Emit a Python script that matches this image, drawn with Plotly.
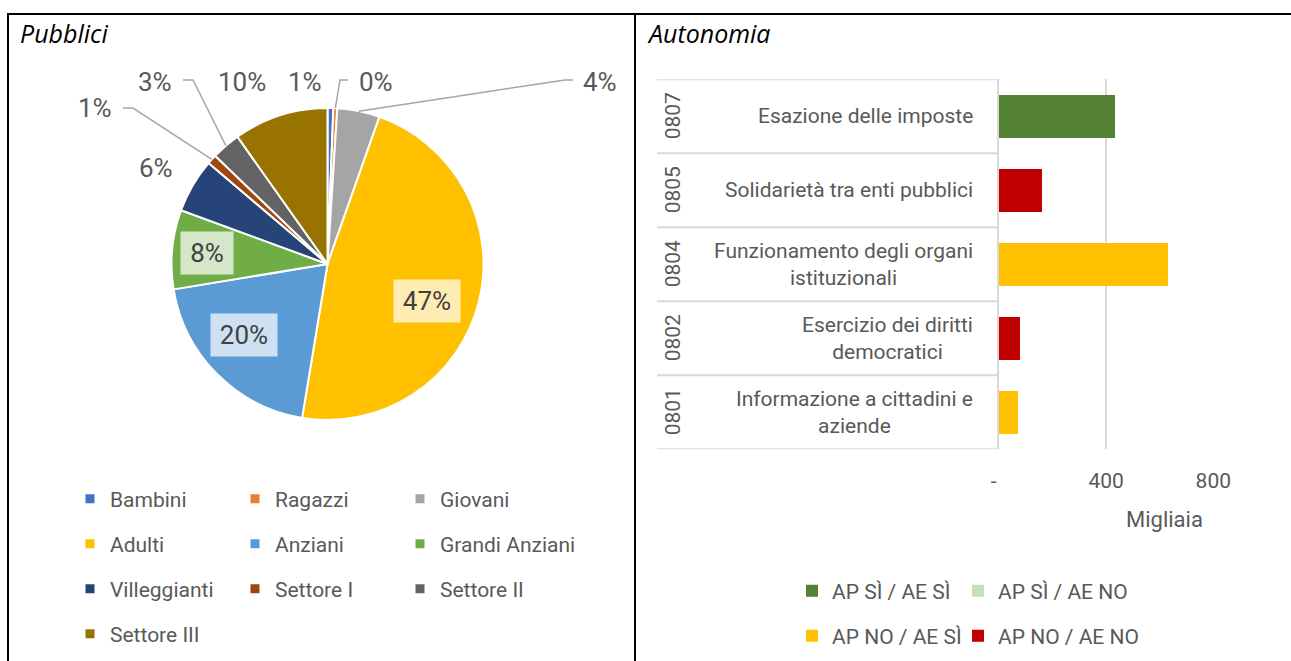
import math
import plotly.graph_objects as go

# ---------------- data ----------------
pie_labels = ['Bambini', 'Ragazzi', 'Giovani', 'Adulti', 'Anziani',
              'Grandi Anziani', 'Villeggianti', 'Settore I', 'Settore II', 'Settore III']
pie_values = [0.6, 0.4, 4.4, 47.2, 19.8, 8.2, 5.6, 1.0, 3.0, 9.8]
pie_colors = ['#4472C4', '#ED7D31', '#A5A5A5', '#FFC000', '#5B9BD5',
              '#70AD47', '#264478', '#9E480E', '#636363', '#997300']

bar_codes = ['0807', '0805', '0804', '0802', '0801']
bar_names = ['Esazione delle imposte',
             'Solidarietà tra enti pubblici',
             'Funzionamento degli organi<br>istituzionali',
             'Esercizio dei diritti<br>democratici',
             'Informazione a cittadini e<br>aziende']
bar_values = [432, 160, 630, 78, 70]
bar_status = ['AP SÌ / AE SÌ', 'AP NO / AE NO', 'AP NO / AE SÌ', 'AP NO / AE NO', 'AP NO / AE SÌ']
status_names = ['AP SÌ / AE SÌ', 'AP SÌ / AE NO', 'AP NO / AE SÌ', 'AP NO / AE NO']
status_colors = ['#548235', '#C5E0B4', '#FFC000', '#C00000']
x_tickvals = [0, 400, 800]
x_ticktext = ['-\u2002', '400', '800']

# ---------------- layout helpers ----------------
W, H = 1291, 661
def px(x): return x / W
def py(y): return 1 - y / H

GRAY = '#595959'
FONT = 'Roboto'
PIE_CX, PIE_CY, PIE_R = 327.5, 264, 156

# label placement (layout only)
label_pos = {
    'Bambini': (305, 82), 'Ragazzi': (376, 82), 'Giovani': (600, 82),
    'Adulti': (427, 301), 'Anziani': (244, 335), 'Grandi Anziani': (207, 253),
    'Villeggianti': (156, 168), 'Settore I': (95, 108), 'Settore II': (155, 82),
    'Settore III': (242, 82),
}
inside_boxes = {'Adulti': 58, 'Anziani': 58, 'Grandi Anziani': 44}
leaders = {  # label-side start, elbow
    'Settore I': ((123, 108), (133, 108)),
    'Settore II': ((183, 80), (193, 80)),
    'Ragazzi': ((348, 80), (340, 80)),
    'Giovani': ((573, 80), (565, 80)),
}

def slice_edge(i):
    total = sum(pie_values)
    cum = sum(pie_values[:i]) + pie_values[i] / 2
    th = 2 * math.pi * cum / total
    return PIE_CX + PIE_R * math.sin(th), PIE_CY - PIE_R * math.cos(th)

fig = go.Figure()

fig.add_trace(go.Pie(
    labels=pie_labels, values=pie_values, sort=False, direction='clockwise', rotation=0,
    marker=dict(colors=pie_colors, line=dict(color='white', width=2)),
    textinfo='none', hoverinfo='skip', showlegend=False,
    domain=dict(x=[px(PIE_CX - PIE_R), px(PIE_CX + PIE_R)],
                y=[py(PIE_CY + PIE_R), py(PIE_CY - PIE_R)])))

# legend entries for the pie (3 per row)
pie_legends = ['legend', 'legend2', 'legend3', 'legend4']
for i, (lab, col) in enumerate(zip(pie_labels, pie_colors)):
    fig.add_trace(go.Scatter(
        x=[None], y=[None], mode='markers', name=lab,
        marker=dict(symbol='square', size=9, color=col),
        legend=pie_legends[i // 3], legendwidth=(200 if i % 3 == 2 else 120),
        xaxis='x2', yaxis='y2', hoverinfo='skip'))

# bars
bar_legends = ['legend5', 'legend5', 'legend6', 'legend6']
for j, (st, col, lg) in enumerate(zip(status_names, status_colors, bar_legends)):
    xs = [v if s == st else None for v, s in zip(bar_values, bar_status)]
    fig.add_trace(go.Bar(
        y=bar_codes, x=xs, orientation='h', name=st, legend=lg,
        legendwidth=(200 if j % 2 == 1 else 121),
        marker=dict(color=col, line=dict(width=0)), hoverinfo='skip'))

annotations = []
shapes = []

def ann(x, y, text, font, **kw):
    d = dict(x=x, y=y, xref='paper', yref='paper', text=text, showarrow=False,
             xanchor='center', yanchor='middle', font=font)
    d.update(kw)
    return d

# pie labels
for i, lab in enumerate(pie_labels):
    pct = f"{round(pie_values[i] / sum(pie_values) * 100)}%"
    lx, ly = label_pos[lab]
    if lab in inside_boxes:
        annotations.append(ann(px(lx), py(ly), pct, dict(family=FONT, size=26, color='#404040'),
                               bgcolor='rgba(255,255,255,0.7)', width=inside_boxes[lab],
                               height=34, borderpad=4))
    else:
        annotations.append(ann(px(lx), py(ly), pct, dict(family=FONT, size=26, color=GRAY)))
    if lab in leaders:
        (sx, sy), (ex, ey) = leaders[lab]
        tx, ty = slice_edge(i)
        path = f"M{px(sx)},{py(sy)} L{px(ex)},{py(ey)} L{px(tx)},{py(ty)}"
        shapes.append(dict(type='path', xref='paper', yref='paper', path=path,
                           line=dict(color='#A6A6A6', width=1.5)))

# category labels of the bar chart
for i, (code, name) in enumerate(zip(bar_codes, bar_names)):
    annotations.append(ann(px(975), i, name, dict(family=FONT, size=21, color=GRAY),
                           yref='y', xanchor='right', align='center'))
    annotations.append(ann(px(673), i, code, dict(family=FONT, size=21, color=GRAY),
                           yref='y', textangle=-90))

# row dividers
for k in range(len(bar_codes) + 1):
    b = k - 0.5
    shapes.append(dict(type='line', xref='paper', yref='y', x0=px(657), x1=px(999),
                       y0=b, y1=b, line=dict(color='#D9D9D9', width=2)))

annotations.append(ann(px(1164), py(519), 'Migliaia', dict(family=FONT, size=22, color=GRAY)))

# titles
annotations.append(ann(px(18), py(33), '<i>Pubblici</i>',
                       dict(family='Open Sans', size=25, color='black'), xanchor='left'))
annotations.append(ann(px(645), py(33), '<i>Autonomia</i>',
                       dict(family='Open Sans', size=25, color='black'), xanchor='left'))

# table frame
frame = dict(color='black', width=2)
shapes.append(dict(type='line', xref='paper', yref='paper', x0=px(7), x1=1, y0=py(14), y1=py(14), line=frame))
shapes.append(dict(type='line', xref='paper', yref='paper', x0=px(8), x1=px(8), y0=py(14), y1=0, line=frame))
shapes.append(dict(type='line', xref='paper', yref='paper', x0=px(635), x1=px(635), y0=py(14), y1=0, line=frame))

legend_common = dict(orientation='h', xanchor='left', yanchor='middle', entrywidth=120,
                     entrywidthmode='pixels', bgcolor='rgba(0,0,0,0)', borderwidth=0,
                     font=dict(family=FONT, size=21, color=GRAY), itemclick=False,
                     itemdoubleclick=False, traceorder='normal')
legends = {}
for name, y in zip(pie_legends, [499, 544, 589, 634]):
    legends[name] = dict(legend_common, x=px(70), y=py(y))
for name, y in zip(['legend5', 'legend6'], [591, 636]):
    legends[name] = dict(legend_common, x=px(792), y=py(y), entrywidth=121)

fig.update_layout(
    width=W, height=H, margin=dict(l=0, r=0, t=0, b=0, pad=0, autoexpand=False),
    paper_bgcolor='white', plot_bgcolor='white',
    barmode='stack', bargap=0.423,
    xaxis=dict(domain=[px(999), px(1213.3)], range=[0, 800], tickvals=x_tickvals,
               ticktext=x_ticktext, showgrid=True, gridcolor='#D9D9D9', gridwidth=2,
               zeroline=False, showline=False, ticks='outside', ticklen=12,
               tickcolor='rgba(0,0,0,0)', tickfont=dict(family=FONT, size=21, color=GRAY),
               anchor='y', fixedrange=True, automargin=False),
    yaxis=dict(domain=[py(449.3), py(79.3)], type='category', categoryorder='array',
               categoryarray=bar_codes, range=[4.5, -0.5], showticklabels=False,
               showline=True, linecolor='#D9D9D9', linewidth=2, showgrid=False,
               zeroline=False, ticks='', anchor='x', fixedrange=True, automargin=False),
    xaxis2=dict(domain=[0, 0.01], visible=False, anchor='y2'),
    yaxis2=dict(domain=[0, 0.01], visible=False, anchor='x2'),
    annotations=annotations, shapes=shapes,
    **legends,
)

fig.write_html('out.html', config={'displayModeBar': False, 'responsive': False},
               post_script="document.body.style.margin='0';document.body.style.overflow='hidden';")
